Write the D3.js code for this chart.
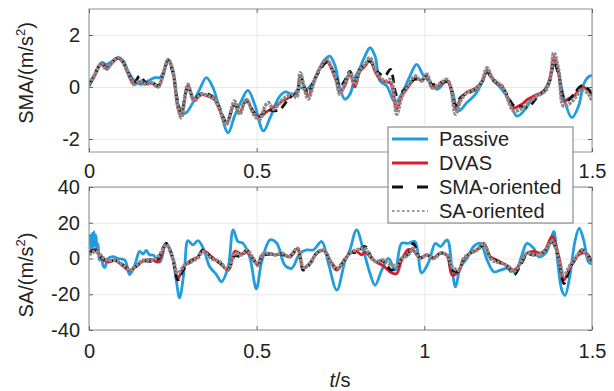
<!DOCTYPE html>
<html><head><meta charset="utf-8">
<script src="https://cdn.jsdelivr.net/npm/d3@7"></script>
<style>
html,body{margin:0;padding:0;background:#fff;}
svg{display:block;font-family:"Liberation Sans",Arial,sans-serif;}
</style></head>
<body><svg id="c" width="614" height="391"></svg>
<script>
// ---------- data ----------
const xTicks = [0, 0.5, 1, 1.5];
const xTickLabels = ["0", "0.5", "1", "1.5"];
const yTicksTop = [-2, 0, 2];
const yTickLabelsTop = ["-2", "0", "2"];
const yTicksBot = [-40, -20, 0, 20, 40];
const yTickLabelsBot = ["-40", "-20", "0", "20", "40"];
const seriesNames = ["Passive", "DVAS", "SMA-oriented", "SA-oriented"];

// SMA panel, [t, value]
const topPassive = [[0,0.04],[0.017,0.42],[0.037,0.94],[0.052,0.87],[0.067,0.97],[0.086,1.13],[0.101,1.03],[0.116,0.62],[0.136,0.23],[0.156,0.1],[0.176,0.23],[0.196,0.36],[0.211,0.36],[0.221,0.55],[0.236,1.06],[0.25,0.68],[0.26,-0.28],[0.275,-1.05],[0.29,-0.99],[0.31,-0.6],[0.33,-0.09],[0.35,0.36],[0.37,-0.03],[0.39,-0.86],[0.415,-1.76],[0.434,-1.12],[0.454,-0.54],[0.474,-0.13],[0.494,-0.67],[0.52,-1.69],[0.54,-1.18],[0.566,-0.41],[0.585,-0.19],[0.609,-0.28],[0.628,-0.03],[0.648,-0.09],[0.664,0.1],[0.684,0.62],[0.703,1.06],[0.718,1.19],[0.734,0.81],[0.748,-0.03],[0.763,-0.47],[0.778,-0.28],[0.793,0.36],[0.808,0.74],[0.823,1.19],[0.838,1.51],[0.853,1.19],[0.868,0.23],[0.888,0.04],[0.913,-0.6],[0.932,-0.28],[0.957,0.42],[0.977,0.87],[0.997,0.45],[1.013,0.23],[1.038,-0.09],[1.067,0.23],[1.082,-0.1],[1.102,-0.92],[1.127,-0.6],[1.152,-0.28],[1.172,0.17],[1.187,0.55],[1.207,0.23],[1.227,-0.03],[1.252,-0.47],[1.276,-1.12],[1.301,-0.86],[1.326,-0.35],[1.351,-0.22],[1.37,0.17],[1.389,1.0],[1.405,0.23],[1.42,-0.6],[1.44,-1.18],[1.46,-0.73],[1.475,0.1],[1.49,0.4],[1.5,0.45]];
const topDVAS = [[0,0.05],[0.017,0.45],[0.037,0.88],[0.052,0.7],[0.067,0.9],[0.086,1.1],[0.101,0.95],[0.116,0.52],[0.134,0.12],[0.151,0.2],[0.171,0.12],[0.186,0.15],[0.206,0.02],[0.221,0.47],[0.236,1.02],[0.25,0.6],[0.265,-0.8],[0.275,-1.1],[0.295,0.05],[0.313,-0.5],[0.335,-0.3],[0.36,-0.38],[0.375,-0.5],[0.39,-0.9],[0.41,-1.4],[0.434,-0.65],[0.449,-1.0],[0.469,-0.5],[0.494,-1.05],[0.51,-1.15],[0.53,-0.95],[0.55,-0.8],[0.57,-0.6],[0.59,-0.45],[0.609,-0.3],[0.62,-0.25],[0.63,0.4],[0.644,-0.1],[0.654,-0.35],[0.669,0.15],[0.684,0.6],[0.709,1.0],[0.723,0.7],[0.738,0.2],[0.748,-0.2],[0.763,0.05],[0.778,0.5],[0.793,0.0],[0.808,0.6],[0.823,0.8],[0.838,1.05],[0.853,0.6],[0.868,0.3],[0.884,0.2],[0.899,0.15],[0.918,-0.85],[0.932,-0.35],[0.952,0.0],[0.972,0.35],[0.992,0.25],[1.008,0.4],[1.023,0.0],[1.043,0.05],[1.067,0.25],[1.078,0.0],[1.093,-0.85],[1.108,-0.45],[1.127,-0.2],[1.152,-0.05],[1.172,0.2],[1.187,0.65],[1.202,0.35],[1.217,0.15],[1.232,0.02],[1.247,-0.35],[1.266,-0.8],[1.286,-0.7],[1.311,-0.45],[1.336,-0.3],[1.361,-0.1],[1.376,0.4],[1.386,1.15],[1.401,0.5],[1.415,-0.55],[1.43,-0.45],[1.45,-0.3],[1.47,0.0],[1.49,-0.15],[1.5,-0.35]];
const topSMA = [[0,0.08],[0.017,0.5],[0.037,0.92],[0.052,0.75],[0.067,0.95],[0.086,1.1],[0.101,0.98],[0.116,0.6],[0.134,0.15],[0.151,0.42],[0.171,0.15],[0.186,0.2],[0.206,0.05],[0.221,0.5],[0.236,1.0],[0.25,0.55],[0.265,-0.6],[0.275,-1.0],[0.295,0.0],[0.313,-0.45],[0.335,-0.25],[0.36,-0.3],[0.375,-0.45],[0.39,-0.8],[0.41,-1.35],[0.434,-0.7],[0.449,-0.85],[0.469,-0.55],[0.494,-1.0],[0.51,-1.1],[0.53,-0.85],[0.55,-0.92],[0.57,-0.85],[0.59,-0.55],[0.609,-0.3],[0.62,-0.3],[0.63,0.45],[0.644,-0.05],[0.654,-0.25],[0.669,0.2],[0.684,0.55],[0.709,0.95],[0.723,0.75],[0.738,0.35],[0.748,0.0],[0.763,0.25],[0.778,0.6],[0.793,0.2],[0.808,0.7],[0.823,0.85],[0.838,1.0],[0.853,0.7],[0.868,0.5],[0.884,0.45],[0.899,0.68],[0.918,-0.3],[0.932,-0.2],[0.952,0.05],[0.972,0.3],[0.992,0.25],[1.008,0.45],[1.023,0.1],[1.043,0.15],[1.067,0.2],[1.078,0.0],[1.093,-0.7],[1.108,-0.4],[1.127,-0.25],[1.152,-0.1],[1.172,0.2],[1.187,0.6],[1.202,0.3],[1.217,0.15],[1.232,0.0],[1.247,-0.3],[1.266,-0.7],[1.286,-0.75],[1.311,-0.75],[1.336,-0.4],[1.361,-0.1],[1.376,0.3],[1.386,0.95],[1.401,0.45],[1.415,-0.4],[1.43,-0.5],[1.45,-0.2],[1.47,0.05],[1.49,-0.1],[1.5,-0.3]];
const topSA = [[0,0.1],[0.017,0.49],[0.037,0.9],[0.052,0.68],[0.067,0.91],[0.086,1.13],[0.101,0.97],[0.116,0.55],[0.134,0.1],[0.151,0.23],[0.171,0.1],[0.186,0.17],[0.206,0],[0.221,0.49],[0.236,1.06],[0.25,0.62],[0.265,-0.73],[0.275,-1.18],[0.295,0.1],[0.313,-0.54],[0.335,-0.28],[0.36,-0.35],[0.375,-0.47],[0.39,-0.86],[0.41,-1.44],[0.434,-0.54],[0.449,-1.05],[0.469,-0.47],[0.494,-1.12],[0.51,-1.24],[0.525,-0.73],[0.535,-0.6],[0.55,-0.85],[0.565,-0.67],[0.584,-0.41],[0.609,-0.28],[0.619,-0.4],[0.63,0.55],[0.644,-0.15],[0.654,-0.47],[0.669,0.1],[0.684,0.62],[0.709,1.06],[0.723,0.74],[0.738,0.23],[0.748,-0.28],[0.763,0.1],[0.778,0.55],[0.793,0.1],[0.808,0.68],[0.823,0.87],[0.838,1.13],[0.853,0.68],[0.868,0.36],[0.884,0.23],[0.899,0.29],[0.918,-1.05],[0.932,-0.41],[0.952,0.04],[0.972,0.42],[0.992,0.23],[1.008,0.49],[1.023,-0.03],[1.043,0.1],[1.067,0.29],[1.078,0.04],[1.093,-1.05],[1.108,-0.54],[1.127,-0.22],[1.152,-0.09],[1.172,0.23],[1.187,0.74],[1.202,0.36],[1.217,0.17],[1.232,0.04],[1.247,-0.41],[1.266,-0.92],[1.286,-0.86],[1.311,-0.6],[1.336,-0.35],[1.361,-0.15],[1.376,0.36],[1.386,1.32],[1.401,0.62],[1.415,-0.73],[1.43,-0.67],[1.45,-0.41],[1.47,-0.09],[1.49,-0.28],[1.5,-0.54]];

// SA panel, [t, value]
const botPassive = [[0,8],[0.003,13],[0.006,4],[0.009,14],[0.012,6],[0.015,15],[0.018,7],[0.021,13],[0.024,3],[0.027,8],[0.031,-1],[0.037,2],[0.042,-4],[0.047,-5],[0.057,0],[0.072,1],[0.087,0],[0.107,-1],[0.121,-9],[0.136,-4],[0.151,4],[0.161,2.5],[0.171,4.5],[0.181,2],[0.191,2],[0.211,-2],[0.23,8.5],[0.246,3],[0.26,-12],[0.27,-22],[0.285,-5],[0.295,10],[0.31,7.6],[0.325,10],[0.34,6],[0.36,-4.6],[0.38,-9],[0.395,-13],[0.415,-4.6],[0.43,16],[0.444,9.5],[0.459,8.5],[0.479,1],[0.499,-17],[0.515,-1.8],[0.54,10.4],[0.56,8.5],[0.584,-3.7],[0.604,-5.5],[0.629,2.9],[0.649,4.8],[0.669,4.8],[0.694,9.5],[0.714,-2.7],[0.739,-17.7],[0.763,-1.8],[0.778,4.8],[0.798,16],[0.818,4.8],[0.838,-8.4],[0.853,-15],[0.873,-6.5],[0.893,0],[0.913,-6.5],[0.932,8.5],[0.952,8.5],[0.972,9.5],[0.992,-8],[1.013,-2],[1.033,8.5],[1.048,6.7],[1.068,10.4],[1.083,-6.5],[1.093,-15.9],[1.108,-4.6],[1.127,0],[1.147,6.7],[1.167,8.5],[1.187,-0.8],[1.207,-7.4],[1.227,-6.5],[1.247,-5.5],[1.271,-7.4],[1.291,2],[1.306,8.5],[1.326,5.7],[1.341,1],[1.361,2.9],[1.376,9.5],[1.386,15.1],[1.396,1],[1.41,-17.7],[1.42,-20.6],[1.435,-8.4],[1.45,10.4],[1.462,17],[1.475,10.4],[1.49,-2],[1.5,-3]];
const botDVAS = [[0,3],[0.02,5],[0.037,0],[0.057,-2],[0.077,-1],[0.097,-3.5],[0.121,-7],[0.141,-4],[0.161,-1.5],[0.186,-0.5],[0.206,-2],[0.23,8],[0.25,0],[0.265,-11],[0.285,-4],[0.305,-1],[0.325,1],[0.34,4.5],[0.365,1],[0.39,-2.5],[0.415,-6.5],[0.435,4],[0.455,2.5],[0.47,3.5],[0.49,-0.5],[0.504,-4],[0.515,1.5],[0.535,2.5],[0.555,2],[0.576,2.5],[0.596,1],[0.622,5.5],[0.639,-5.5],[0.659,-2.5],[0.679,3],[0.699,4.5],[0.718,-1],[0.738,-6.5],[0.758,-2],[0.778,3],[0.798,4],[0.813,2],[0.823,3.5],[0.843,0],[0.857,-2],[0.877,-4],[0.902,-8],[0.917,-8.5],[0.932,-1],[0.952,5],[0.967,4.5],[0.987,0.5],[1.007,2],[1.028,0.5],[1.048,3],[1.068,1.5],[1.083,-9.3],[1.103,-7],[1.117,-0.5],[1.137,3],[1.157,5],[1.177,8.5],[1.197,1],[1.212,-0.5],[1.232,-2.5],[1.251,-4.5],[1.266,-6.5],[1.286,-3],[1.306,3],[1.326,4],[1.346,3],[1.361,5],[1.381,12.3],[1.401,1],[1.416,-12],[1.435,-5],[1.45,0],[1.47,3],[1.485,2.5],[1.5,-1.5]];
const botSMA = [[0,3],[0.02,4.5],[0.037,0.5],[0.057,-1.5],[0.077,-1],[0.097,-3],[0.121,-6],[0.141,-4.5],[0.161,-1.5],[0.186,-1.5],[0.206,0],[0.23,8.5],[0.25,0],[0.265,-12],[0.285,-5],[0.305,-1.5],[0.325,1],[0.34,4.8],[0.365,0.5],[0.39,-2.5],[0.415,-6],[0.435,1.5],[0.455,1],[0.47,4.8],[0.49,-0.5],[0.504,-4],[0.515,1],[0.535,2.5],[0.555,2.5],[0.576,2.5],[0.596,0.5],[0.622,5],[0.639,-6.5],[0.659,-3],[0.679,3],[0.699,4.8],[0.718,-0.5],[0.738,-5.5],[0.758,-2],[0.778,3],[0.798,3.5],[0.823,6.7],[0.843,0.5],[0.857,-1.5],[0.877,-1.5],[0.902,-6.5],[0.917,-5],[0.932,0],[0.952,2.5],[0.967,8.5],[0.987,0.5],[1.007,2],[1.028,0],[1.048,3],[1.068,2],[1.083,-6.5],[1.103,-7],[1.117,-0.5],[1.137,3],[1.157,4.5],[1.177,7.5],[1.197,0.5],[1.212,-1],[1.232,-3],[1.251,-5],[1.266,-9.3],[1.286,-4],[1.306,2],[1.326,2],[1.346,2.5],[1.361,4.5],[1.381,9],[1.401,0],[1.416,-14],[1.435,-5],[1.45,-0.5],[1.47,4.8],[1.485,2.5],[1.5,-2]];
const botSA = [[0,2],[0.02,4],[0.037,1],[0.057,-1],[0.077,-1],[0.097,-3],[0.121,-6.5],[0.141,-4],[0.161,-1],[0.186,-1],[0.206,1],[0.23,7.6],[0.25,0],[0.265,-8.4],[0.285,-3.7],[0.305,-1.8],[0.325,0.5],[0.34,3.8],[0.365,0],[0.39,-1.8],[0.415,-6.5],[0.435,2.9],[0.455,2],[0.47,4.8],[0.49,0],[0.504,-3.7],[0.515,2],[0.535,2.9],[0.555,2],[0.576,2.9],[0.596,1],[0.622,5.7],[0.639,-5],[0.659,-2.7],[0.679,2.9],[0.699,4.8],[0.718,-0.8],[0.738,-5.5],[0.758,-1.8],[0.778,2.9],[0.798,4.8],[0.823,5.7],[0.843,0],[0.857,-1.8],[0.877,-0.8],[0.902,-3.7],[0.917,-3.7],[0.932,0],[0.952,2],[0.967,5.7],[0.987,0],[1.007,2],[1.028,0],[1.048,2.9],[1.068,2],[1.083,-4.6],[1.103,-6.5],[1.117,0],[1.137,2.9],[1.157,4.8],[1.177,8.5],[1.197,0],[1.212,-1.8],[1.232,-2.7],[1.251,-4.6],[1.266,-7.4],[1.286,-2.7],[1.306,2.9],[1.326,2],[1.346,2.5],[1.361,4.8],[1.381,9.5],[1.401,0],[1.416,-9.3],[1.435,-3.7],[1.45,0],[1.47,4.8],[1.485,2],[1.5,-2.7]];

// ---------- drawing ----------
const svg = d3.select("#c");
const X0 = 89, X1 = 592;
const x = d3.scaleLinear().domain([0, 1.5]).range([X0, X1]);

const styles = [
  {color: "#1f9ddf", width: 2.8, dash: null},
  {color: "#d81b2e", width: 2.8, dash: null},
  {color: "#111111", width: 2.8, dash: "8,5"},
  {color: "#8c8c8c", width: 3.6, dash: "3,1"}
];
const fontSize = 20;
const textColor = "#222";

function panel(id, top, bottom, domain, yTicks, yLabels, series, xLabelPad) {
  const y = d3.scaleLinear().domain(domain).range([bottom, top]);
  const g = svg.append("g");
  // grid
  g.append("g").attr("transform", `translate(0,${bottom})`)
    .call(d3.axisBottom(x).tickValues(xTicks).tickSize(-(bottom - top)).tickFormat(""))
    .call(s => { s.select(".domain").remove(); s.selectAll("line").attr("stroke", "#e8e8e8"); });
  g.append("g").attr("transform", `translate(${X0},0)`)
    .call(d3.axisLeft(y).tickValues(yTicks).tickSize(-(X1 - X0)).tickFormat(""))
    .call(s => { s.select(".domain").remove(); s.selectAll("line").attr("stroke", "#e8e8e8"); });
  // clip
  svg.append("clipPath").attr("id", id).append("rect")
    .attr("x", X0).attr("y", top).attr("width", X1 - X0).attr("height", bottom - top);
  const line = d3.line().x(d => x(d[0])).y(d => y(d[1])).curve(d3.curveCatmullRom.alpha(0.5));
  const lg = g.append("g").attr("clip-path", `url(#${id})`);
  series.forEach((s, i) => {
    const st = styles[i];
    lg.append("path").datum(s).attr("d", line).attr("fill", "none")
      .attr("stroke", st.color).attr("stroke-width", st.width)
      .attr("stroke-linejoin", "round").attr("stroke-linecap", "butt")
      .attr("stroke-dasharray", st.dash);
  });
  // frame
  g.append("rect").attr("x", X0).attr("y", top).attr("width", X1 - X0).attr("height", bottom - top)
    .attr("fill", "none").attr("stroke", "#8a8f96").attr("stroke-width", 1);
  // inward ticks on all sides
  const tk = s => { s.select(".domain").remove(); s.selectAll("line").attr("stroke", "#666"); };
  g.append("g").attr("transform", `translate(0,${bottom})`).call(d3.axisBottom(x).tickValues(xTicks).tickSize(-4).tickFormat("")).call(tk);
  g.append("g").attr("transform", `translate(0,${top})`).call(d3.axisTop(x).tickValues(xTicks).tickSize(-4).tickFormat("")).call(tk);
  g.append("g").attr("transform", `translate(${X0},0)`).call(d3.axisLeft(y).tickValues(yTicks).tickSize(-4).tickFormat("")).call(tk);
  g.append("g").attr("transform", `translate(${X1},0)`).call(d3.axisRight(y).tickValues(yTicks).tickSize(-4).tickFormat("")).call(tk);
  // labels
  const lab = s => { s.select(".domain").remove(); s.selectAll("line").remove();
    s.selectAll("text").attr("font-size", fontSize).attr("fill", textColor).attr("font-family", '"Liberation Sans", Arial, sans-serif'); };
  g.append("g").attr("transform", `translate(${X0},0)`)
    .call(d3.axisLeft(y).tickValues(yTicks).tickSize(0).tickPadding(9).tickFormat((d, i) => yLabels[i])).call(lab);
  g.append("g").attr("transform", `translate(0,${bottom})`)
    .call(d3.axisBottom(x).tickValues(xTicks).tickSize(0).tickPadding(xLabelPad).tickFormat((d, i) => xTickLabels[i])).call(lab);
  return y;
}

panel("clipTop", 9, 152, [-2.5, 3], yTicksTop, yTickLabelsTop, [topPassive, topDVAS, topSMA, topSA], 12);
panel("clipBot", 187, 330, [-40, 40], yTicksBot, yTickLabelsBot, [botPassive, botDVAS, botSMA, botSA], 14);

// y-axis titles
function yTitle(cx, cy, main) {
  const t = svg.append("text").attr("transform", `translate(${cx},${cy}) rotate(-90)`)
    .attr("text-anchor", "middle").attr("font-size", fontSize).attr("fill", textColor);
  t.append("tspan").text(main + "/(m/s");
  t.append("tspan").attr("font-size", 13).attr("dy", -8).text("2");
  t.append("tspan").attr("dy", 8).text(")");
}
yTitle(33, 73, "SMA");
yTitle(33, 275, "SA");

// x-axis title
const xt = svg.append("text").attr("x", 340).attr("y", 387).attr("text-anchor", "middle")
  .attr("font-size", fontSize).attr("fill", textColor);
xt.append("tspan").attr("font-style", "italic").text("t");
xt.append("tspan").text("/s");

// legend
const lgX = 388, lgY = 127, lgW = 185, lgH = 96;
const leg = svg.append("g");
leg.append("rect").attr("x", lgX).attr("y", lgY).attr("width", lgW).attr("height", lgH)
  .attr("fill", "#fff").attr("stroke", "#777").attr("stroke-width", 1);
const legDash = [null, null, "11,14", "2.5,2.5"];
const legColor = ["#1f9ddf", "#d81b2e", "#111", "#9a9a9a"];
seriesNames.forEach((name, i) => {
  const cy = lgY + 12 + i * 24;
  leg.append("line").attr("x1", lgX + 4).attr("x2", lgX + 40).attr("y1", cy).attr("y2", cy)
    .attr("stroke", legColor[i]).attr("stroke-width", i === 3 ? 2 : 2.8).attr("stroke-dasharray", legDash[i]);
  leg.append("text").attr("x", lgX + 51).attr("y", cy + 7).attr("font-size", fontSize).attr("fill", textColor).text(name);
});
</script>
</body></html>
